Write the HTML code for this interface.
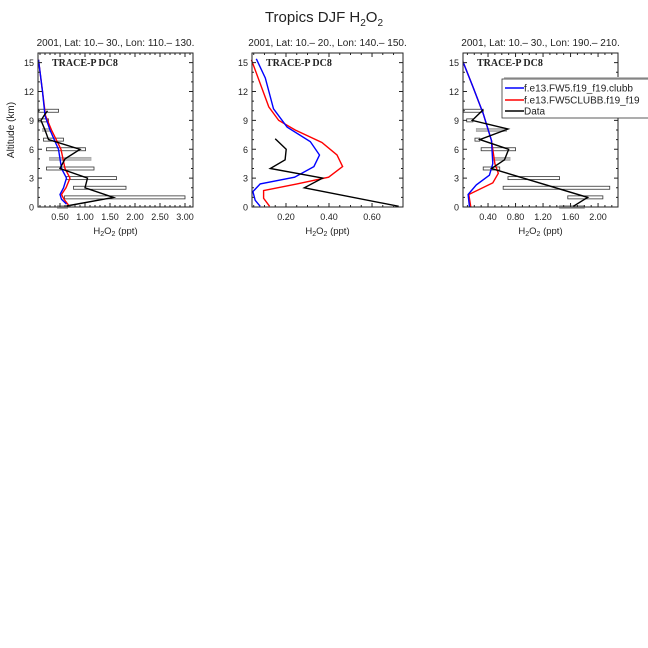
<!DOCTYPE html>
<html><head><meta charset="utf-8"><style>
body{margin:0;background:#fff;}
svg{display:block;font-family:"Liberation Sans",sans-serif;}
</style></head><body>
<svg id="chart" width="648" height="648" xmlns="http://www.w3.org/2000/svg">
<rect width="648" height="648" fill="#fff"/>
<text x="324" y="22" text-anchor="middle" font-size="15" fill="#222">Tropics DJF H<tspan font-size="10" dy="4">2</tspan><tspan dy="-4">O</tspan><tspan font-size="10" dy="4">2</tspan></text>
<text transform="translate(14,130) rotate(-90)" text-anchor="middle" font-size="10" fill="#222">Altitude (km)</text>
</svg>
<script>
// Panel 1 data
const p1BlueX=[0.07,0.15,0.2,0.3,0.47,0.53,0.63,0.57,0.5,0.53,0.63];
const p1BlueY=[15.3,12,9.5,8,6,4,3,2,1.3,0.8,0.3];
const p1RedX=[0.07,0.15,0.21,0.33,0.52,0.6,0.7,0.62,0.53,0.58,0.67];
const p1RedY=[15.3,12,9.5,8,6,4,3,2,1.3,0.8,0.2];
const p1DataX=[0.25,0.18,0.12,0.2,0.27,0.9,0.6,0.5,1.05,1.0,1.57,0.63];
const p1DataY=[10,9.5,9,8,7,6,5,4,3,2,1,0.1];
const p1BarLo=[0.07,0.07,0.15,0.17,0.23,0.29,0.23,0.63,0.77,0.59,0.45];
const p1BarHi=[0.47,0.27,0.3,0.57,1.01,1.12,1.18,1.63,1.82,3.0,0.65];
const p1BarAlt=[10,9,8,7,6,5,4,3,2,1,0];
const p1BarGray=[0,0,1,0,0,1,0,0,0,0,1];
// Panel 2 data
const p2BlueX=[0.062,0.104,0.142,0.205,0.313,0.356,0.33,0.24,0.08,0.046,0.057,0.08];
const p2BlueY=[15.4,13.4,10.2,8.3,6.8,5.4,4.2,3.1,2.4,1.6,0.7,0.07];
const p2RedX=[0.039,0.12,0.166,0.243,0.367,0.437,0.463,0.398,0.251,0.096,0.096,0.124];
const p2RedY=[15.3,10.4,9,8,6.7,5.4,4.2,3.1,2.4,1.7,0.9,0.07];
const p2DataX=[0.15,0.201,0.196,0.127,0.37,0.285,0.724];
const p2DataY=[7.1,6,4.9,4,3,2,0.07];
// Panel 3 data
const p3BlueX=[0.036,0.18,0.33,0.45,0.47,0.42,0.23,0.11,0.13];
const p3BlueY=[15.1,12.5,9.7,6.9,4.5,3.3,2.3,1.3,0];
const p3RedX=[0.036,0.18,0.33,0.45,0.5,0.55,0.47,0.12,0.15];
const p3RedY=[15.1,12.5,9.7,6.9,4.5,3.5,2.5,1.3,0];
const p3DataX=[0.33,0.17,0.69,0.28,0.7,0.64,0.45,1.85,1.64];
const p3DataY=[10.1,9,8.1,7,6,4.9,4,1,0.07];
const p3BarLo=[0.04,0.09,0.23,0.21,0.3,0.47,0.33,0.69,0.62,1.56,1.44];
const p3BarHi=[0.33,0.18,0.67,0.28,0.8,0.72,0.57,1.44,2.17,2.07,1.8];
const p3BarAlt=[10,9,8,7,6,5,4,3,2,1,0];
const p3BarGray=[0,0,1,0,0,1,0,0,0,0,1];
// Tick labels
const p1Ticks=[0.5,1,1.5,2,2.5,3];
const p2Ticks=[0.2,0.4,0.6];
const p3Ticks=[0.4,0.8,1.2,1.6,2.0];
const yTicks=[0,3,6,9,12,15];
const legendLabels=["f.e13.FW5.f19_f19.clubb","f.e13.FW5CLUBB.f19_f19","Data"];

const svg=document.getElementById('chart');
const NS="http://www.w3.org/2000/svg";
function mk(tag,attrs,parent){const e=document.createElementNS(NS,tag);for(const k in attrs)e.setAttribute(k,attrs[k]);(parent||svg).appendChild(e);return e;}
const plotTop=53,plotBot=207;
function yS(a){return plotBot-(a/16)*(plotBot-plotTop);}
function panel(idx,L,R,xmin,xmax,ticks,minorStep,title,series,bars){
  const g=mk('g',{});
  
  
  const xS=v=>L+(v-xmin)/(xmax-xmin)*(R-L);
  const t=mk('text',{x:(L+R)/2,y:46,'text-anchor':'middle','font-size':10,fill:'#222'},g);
  t.textContent=title;
  
  
  const lab=mk('text',{x:L+14,y:66,'font-size':10,'font-family':'Liberation Serif, serif','font-weight':'bold',fill:'#222'},g);
  lab.textContent='TRACE-P DC8';
  
  
  for(let i=0;i<bars.lo.length;i++){
    const y=yS(bars.alt[i]);
    const r=mk('rect',{x:xS(bars.lo[i]),y:y-1.5,width:xS(bars.hi[i])-xS(bars.lo[i]),height:3,fill:bars.gray[i]?'#bbb':'#fff',stroke:bars.gray[i]?'#aaa':'#333','stroke-width':0.8},g);
    
    
  }
  for(const s of series){
    const pts=s.x.map((v,i)=>xS(v).toFixed(1)+','+yS(s.y[i]).toFixed(1)).join(' ');
    const p=mk('polyline',{points:pts,fill:'none',stroke:s.c,'stroke-width':1.4},g);
    
    
  }
  const box=mk('rect',{x:L,y:plotTop,width:R-L,height:plotBot-plotTop,fill:'none',stroke:'#222','stroke-width':1},g);
  
  
  for(let a=0;a<=16;a++){
    const len=a%3===0?4:2,y=yS(a);
    mk('line',{x1:L,x2:L+len,y1:y,y2:y,stroke:'#222'},g);
    mk('line',{x1:R,x2:R-len,y1:y,y2:y,stroke:'#222'},g);
  }
  for(const a of yTicks){
    const tt=mk('text',{x:L-4,y:yS(a)+3.5,'text-anchor':'end','font-size':9,fill:'#222'},g);
    tt.textContent=a;
    
    
  }
  const n0=Math.ceil(xmin/minorStep-1e-6);
  for(let k=n0;k*minorStep<=xmax+1e-9;k++){
    const v=k*minorStep,x=xS(v);
    const major=ticks.some(tv=>Math.abs(tv-v)<1e-6);
    const len=major?4:2;
    mk('line',{x1:x,x2:x,y1:plotBot,y2:plotBot-len,stroke:'#222'},g);
    mk('line',{x1:x,x2:x,y1:plotTop,y2:plotTop+len,stroke:'#222'},g);
  }
  for(const v of ticks){
    const tt=mk('text',{x:xS(v),y:220,'text-anchor':'middle','font-size':9,fill:'#222'},g);
    tt.textContent=v.toFixed(2);
    
    
  }
  const xt=mk('text',{x:(L+R)/2,y:234,'text-anchor':'middle','font-size':9.5,fill:'#222'},g);
  xt.innerHTML='H<tspan font-size="7" dy="2">2</tspan><tspan dy="-2">O</tspan><tspan font-size="7" dy="2">2</tspan><tspan dy="-2"> (ppt)</tspan>';
  
  
}
panel(1,38,193,0.06,3.16,p1Ticks,0.1,'2001, Lat: 10.– 30., Lon: 110.– 130.',
 [{x:p1RedX,y:p1RedY,c:'#f00',n:'model-red-line'},{x:p1BlueX,y:p1BlueY,c:'#00f',n:'model-blue-line'},{x:p1DataX,y:p1DataY,c:'#000',n:'data-line'}],
 {lo:p1BarLo,hi:p1BarHi,alt:p1BarAlt,gray:p1BarGray});
panel(2,252,403,0.042,0.744,p2Ticks,0.05,'2001, Lat: 10.– 20., Lon: 140.– 150.',
 [{x:p2RedX,y:p2RedY,c:'#f00',n:'model-red-line'},{x:p2BlueX,y:p2BlueY,c:'#00f',n:'model-blue-line'},{x:p2DataX,y:p2DataY,c:'#000',n:'data-line'}],
 {lo:[],hi:[],alt:[],gray:[]});
panel(3,463,618,0.036,2.29,p3Ticks,0.1,'2001, Lat: 10.– 30., Lon: 190.– 210.',
 [{x:p3RedX,y:p3RedY,c:'#f00',n:'model-red-line'},{x:p3BlueX,y:p3BlueY,c:'#00f',n:'model-blue-line'},{x:p3DataX,y:p3DataY,c:'#000',n:'data-line'}],
 {lo:p3BarLo,hi:p3BarHi,alt:p3BarAlt,gray:p3BarGray});
const lg=mk('g',{});


mk('rect',{x:504,y:77,width:150,height:40,fill:'#bbb'},lg);
mk('rect',{x:502,y:79,width:150,height:39,fill:'#fff',stroke:'#333','stroke-width':0.8},lg);
const lc=['#00f','#f00','#000'],ly=[88,100,111];
for(let i=0;i<3;i++){
  const l=mk('line',{x1:505,x2:524,y1:ly[i],y2:ly[i],stroke:lc[i],'stroke-width':1.4},lg);
  
  
  const t=mk('text',{x:524,y:ly[i]+3.5,'font-size':10,fill:'#222'},lg);
  t.textContent=legendLabels[i];
  
  
}
</script>
</body></html>
